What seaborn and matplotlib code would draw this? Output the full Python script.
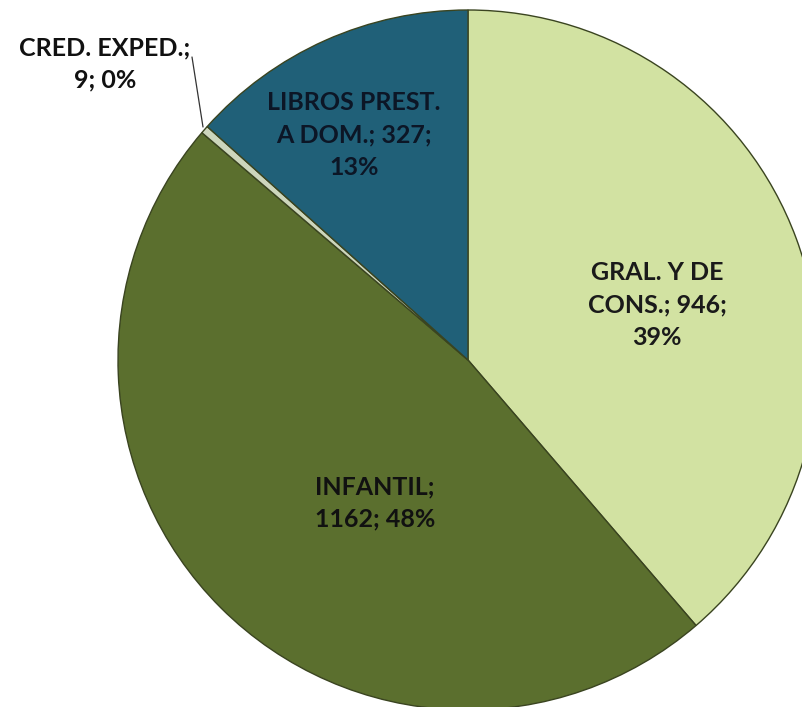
import matplotlib.pyplot as plt
import seaborn as sns

# data
labels = ['GRAL. Y DE\nCONS.', 'INFANTIL', 'CRED. EXPED.', 'LIBROS PREST.\nA DOM.']
values = [946, 1162, 9, 327]
colors = ['#d2e2a2', '#5b6f2e', '#cdd6bc', '#206078']

sns.set_theme(style='white')
plt.rcParams['font.family'] = ['Lato', 'DejaVu Sans']

fig = plt.figure(figsize=(8.02, 7.07), dpi=100)
ax = fig.add_axes([0, 0, 1, 1])

wedges, _ = ax.pie(values, colors=colors, startangle=90, counterclock=False,
                   center=(468, 347), radius=350,
                   wedgeprops=dict(edgecolor='#3a4420', linewidth=1.0))
ax.set_xlim(0, 802)
ax.set_ylim(0, 707)
ax.set_aspect('equal')
ax.axis('off')

total = sum(values)
pct = [round(v / total * 100) for v in values]

font = dict(fontsize=18, fontweight='bold', ha='center', va='center', linespacing=1.5)

ax.text(657, 707 - 305, f'GRAL. Y DE\nCONS.; {values[0]};\n{pct[0]}%', color='#1a1a1a', **font)
ax.text(375, 707 - 503, f'INFANTIL;\n{values[1]}; {pct[1]}%', color='#111111', **font)
ax.text(354, 707 - 135, f'LIBROS PREST.\nA DOM.; {values[3]};\n{pct[3]}%', color='#0c1626', **font)
ax.text(105, 707 - 64, f'CRED. EXPED.;\n{values[2]}; {pct[2]}%', color='#111111', **font)

# leader line for the small slice
ax.plot([192, 203], [707 - 57, 707 - 127], color='#333333', linewidth=0.9)

fig.savefig('out.png', dpi=100)
